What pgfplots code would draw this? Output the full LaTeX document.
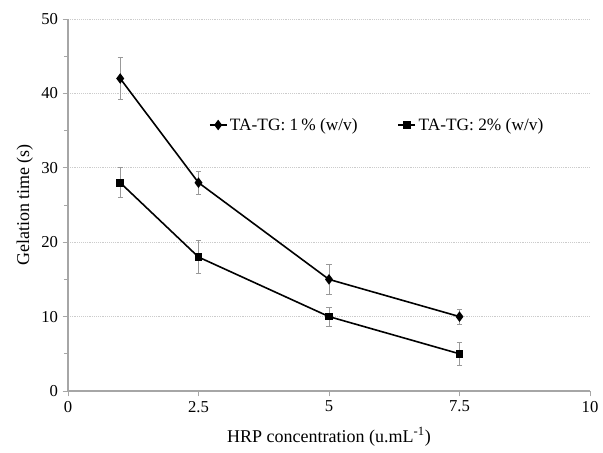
\documentclass[border=0pt]{standalone}
\usepackage{fontspec}
\setmainfont{Liberation Serif}
\usepackage{pgfplots}
\pgfplotsset{compat=1.18}

\begin{document}
\begin{tikzpicture}
\begin{axis}[
    scale only axis,
    width=391.5pt, height=279pt,
    xmin=0, xmax=10, ymin=0, ymax=50,
    axis x line*=bottom, axis y line*=left,
    axis line style={gray!70, line width=0.8pt},
    xtick={0,2.5,5,7.5,10},
    xticklabels={0,2.5,5,7.5,10},
    ytick={0,10,...,50},
    minor y tick num=1,
    tick align=outside,
    major tick length=4pt, minor tick length=3pt,
    tick style={gray!70, line width=0.6pt},
    ymajorgrids=true,
    grid style={gray!40, densely dotted, line width=0.5pt},
    /pgf/number format/assume math mode=true,
    tick label style={font=\fontsize{12.5}{14}\selectfont, black},
    label style={font=\fontsize{13.5}{16}\selectfont},
    xlabel={HRP concentration (u.mL\textsuperscript{-1})},
    ylabel={Gelation time (s)},
    ylabel style={at={(axis description cs:-0.083,0.5)}, anchor=center},
    xlabel style={at={(axis description cs:0.5,-0.124)}, anchor=center},
    legend style={at={(axis description cs:0.262,0.715)}, anchor=west,
        draw=none, fill=none, font=\fontsize{13}{15}\selectfont,
        legend columns=2, /tikz/every even column/.append style={column sep=28pt}},
    legend image code/.code={
        \draw[mark repeat=2, mark phase=2, #1] plot coordinates {(0cm,0cm) (0.22cm,0cm) (0.44cm,0cm)};
    },
    error bars/y dir=both, error bars/y explicit,
    error bars/error bar style={gray!80, line width=0.5pt},
    error bars/error mark options={rotate=90, gray!80, mark size=2pt, line width=0.5pt},
]
\addplot[black, line width=1.2pt, mark=diamond*, mark size=3pt,
    mark options={solid, black}] coordinates {
    (1,42) +- (0,2.8)
    (2.5,28) +- (0,1.5)
    (5,15) +- (0,2.0)
    (7.5,10) +- (0,1.0)
};
\addlegendentry{TA-TG: 1\,\% (w/v)}
\addplot[black, line width=1.2pt, mark=square*, mark size=2.3pt,
    mark options={solid, black}] coordinates {
    (1,28) +- (0,2.0)
    (2.5,18) +- (0,2.2)
    (5,10) +- (0,1.3)
    (7.5,5) +- (0,1.5)
};
\addlegendentry{TA-TG: 2\% (w/v)}
\coordinate (bl) at (rel axis cs:0,0);
\coordinate (tr) at (rel axis cs:1,1);
\end{axis}
\path ([shift={(-51pt,-46.5pt)}]bl) rectangle ([shift={(9.75pt,14.25pt)}]tr);
\end{tikzpicture}
\end{document}
